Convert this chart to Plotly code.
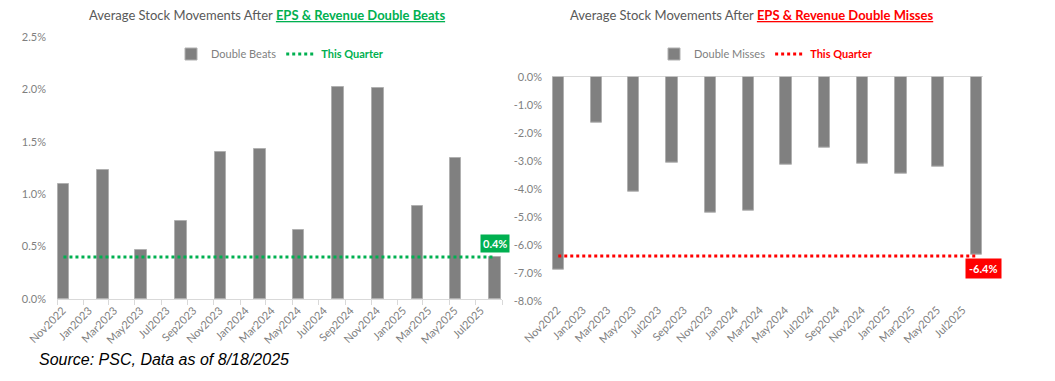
import pandas as pd
import plotly.graph_objects as go

# ---------------- data ----------------
quarters = ["2022-11", "2023-02", "2023-05", "2023-08", "2023-11", "2024-02",
            "2024-05", "2024-08", "2024-11", "2025-02", "2025-05", "2025-08"]
double_beats = [1.10, 1.23, 0.47, 0.74, 1.40, 1.43, 0.66, 2.02, 2.01, 0.89, 1.35, 0.40]
double_misses = [-6.89, -1.65, -4.12, -3.06, -4.86, -4.80, -3.13, -2.55, -3.10, -3.46, -3.20, -6.37]
beats_this_quarter = 0.4
misses_this_quarter = -6.4
beats_ticks = [0.0, 0.5, 1.0, 1.5, 2.0, 2.5]
misses_ticks = [0.0, -1.0, -2.0, -3.0, -4.0, -5.0, -6.0, -7.0, -8.0]
tick_months = ["2022-11", "2023-01", "2023-03", "2023-05", "2023-07", "2023-09", "2023-11",
               "2024-01", "2024-03", "2024-05", "2024-07", "2024-09", "2024-11",
               "2025-01", "2025-03", "2025-05", "2025-07"]
axis_start, axis_end = "2022-11-01", "2025-09-01"

# ---------------- layout helpers (page pixels -> paper, page body has 8px margin) ----------------
W, H, OFF = 1055, 381, 8
def px(x):
    return (x - OFF) / W
def py(y):
    return 1 - (y - OFF) / H

# ---------------- derived ----------------
bar_x = [pd.Timestamp(q + "-01") + pd.Timedelta(days=15) for q in quarters]
tick_start = [pd.Timestamp(m + "-01") for m in tick_months] + [pd.Timestamp(axis_end)]
label_x = [pd.Timestamp(m + "-01") + pd.Timedelta(days=13) for m in tick_months]
tick_text = [pd.Timestamp(m + "-01").strftime("%b%Y") for m in tick_months]

GRAY = "#808080"
TXT = "#7f7f7f"
GREEN = "#00B050"
RED = "#FF0000"
FONT = "Lato"
bar_width_ms = 27 * 24 * 3600 * 1000

fig = go.Figure()

fig.add_trace(go.Bar(x=bar_x, y=double_beats, name="Double Beats", width=bar_width_ms,
                     marker=dict(color=GRAY, line=dict(color="#b0b0b0", width=1)),
                     xaxis="x", yaxis="y", legend="legend"))
fig.add_trace(go.Scatter(x=[bar_x[0], bar_x[-1]], y=[beats_this_quarter] * 2, mode="lines",
                         name="<b><span style='color:%s'>This Quarter</span></b>" % GREEN,
                         line=dict(color=GREEN, width=3, dash="dot"),
                         xaxis="x", yaxis="y", legend="legend"))
fig.add_trace(go.Bar(x=bar_x, y=double_misses, name="Double Misses", width=bar_width_ms,
                     marker=dict(color=GRAY, line=dict(color="#b0b0b0", width=1)),
                     xaxis="x2", yaxis="y2", legend="legend2"))
fig.add_trace(go.Scatter(x=[bar_x[0], bar_x[-1]], y=[misses_this_quarter] * 2, mode="lines",
                         name="<b><span style='color:%s'>This Quarter</span></b>" % RED,
                         line=dict(color=RED, width=3, dash="dot"),
                         xaxis="x2", yaxis="y2", legend="legend2"))

xcommon = dict(type="date", range=[axis_start, axis_end], tickvals=label_x, ticktext=tick_text,
               tickangle=-45, tickfont=dict(family=FONT, size=11, color=TXT),
               showgrid=False, zeroline=False, ticks="", fixedrange=True, automargin=False)

fig.update_layout(
    template="none",
    width=W, height=H,
    margin=dict(l=0, r=0, t=0, b=0),
    paper_bgcolor="white", plot_bgcolor="white",
    bargap=0,
    xaxis=dict(**xcommon, domain=[px(57), px(502)], anchor="y",
               showline=True, linecolor="#d9d9d9", linewidth=1,
               minor=dict(tickvals=tick_start, ticks="outside", ticklen=5, tickcolor="#d9d9d9")),
    yaxis=dict(domain=[py(299), py(37)], range=[0, 2.5], tickvals=beats_ticks,
               ticktext=["%.1f%%" % v for v in beats_ticks],
               showgrid=False, zeroline=False, showline=False, ticks="", automargin=False,
               tickfont=dict(family=FONT, size=11, color=TXT), ticklabelstandoff=10, anchor="x"),
    xaxis2=dict(**xcommon, domain=[px(552), px(983)], anchor="y2", showline=False),
    yaxis2=dict(domain=[py(300.7), py(76.7)], range=[-8, 0], tickvals=misses_ticks,
                ticktext=["%.1f%%" % v for v in misses_ticks],
                showgrid=False, zeroline=True, ticks="", automargin=False,
                zerolinecolor="#d9d9d9", zerolinewidth=1, showline=False,
                tickfont=dict(family=FONT, size=11, color=TXT), ticklabelstandoff=9, anchor="x2"),
    legend=dict(orientation="h", x=px(280), y=py(54), xanchor="center", yanchor="middle",
                font=dict(family=FONT, size=11, color=TXT), bgcolor="rgba(0,0,0,0)",
                itemwidth=30, tracegroupgap=0),
    legend2=dict(orientation="h", x=px(766), y=py(54), xanchor="center", yanchor="middle",
                 font=dict(family=FONT, size=11, color=TXT), bgcolor="rgba(0,0,0,0)",
                 itemwidth=30, tracegroupgap=0),
    showlegend=True,
)

annotations = [
    dict(text="Average Stock Movements After <b><span style='color:%s;text-decoration:underline'>EPS &amp; Revenue Double Beats</span></b>" % GREEN,
         x=px(267), y=py(15), xref="paper", yref="paper", xanchor="center", yanchor="middle",
         showarrow=False, font=dict(family=FONT, size=13, color="#595959")),
    dict(text="Average Stock Movements After <b><span style='color:%s;text-decoration:underline'>EPS &amp; Revenue Double Misses</span></b>" % RED,
         x=px(752), y=py(15), xref="paper", yref="paper", xanchor="center", yanchor="middle",
         showarrow=False, font=dict(family=FONT, size=13, color="#595959")),
    dict(text="<b>%.1f%%</b>" % beats_this_quarter, x=bar_x[-1], y=beats_this_quarter,
         xref="x", yref="y", showarrow=False, yshift=14, bgcolor=GREEN,
         font=dict(family=FONT, size=11, color="white"), borderpad=2),
    dict(text="<b>%.1f%%</b>" % misses_this_quarter, x=bar_x[-1], y=misses_this_quarter,
         xref="x2", yref="y2", showarrow=False, yshift=-13, xshift=7, bgcolor=RED,
         font=dict(family=FONT, size=11, color="white"), borderpad=3),
    dict(text="<i>Source: PSC, Data as of 8/18/2025</i>", x=px(37), y=py(359),
         xref="paper", yref="paper", xanchor="left", yanchor="middle", showarrow=False,
         font=dict(family="Liberation Sans", size=16, color="black")),
]
fig.update_layout(annotations=annotations)

fig.write_html("out.html")
